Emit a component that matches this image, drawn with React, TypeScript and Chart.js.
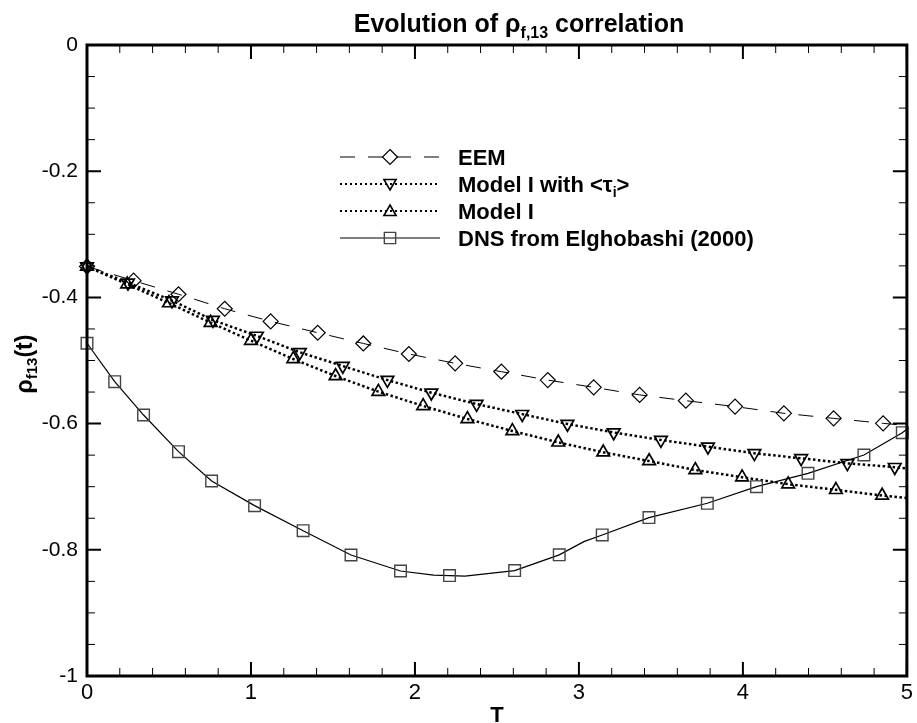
import React, { useEffect, useRef } from 'react';
import { Chart, registerables } from 'chart.js';

Chart.register(...registerables);

// ---------- data ----------
const eemT = [0, 0.284, 0.558, 0.84, 1.12, 1.407, 1.685, 1.963, 2.245, 2.527, 2.81, 3.09, 3.37, 3.652, 3.952, 4.25, 4.553, 4.855];
const eemV = [-0.351, -0.3735, -0.395, -0.418, -0.438, -0.456, -0.473, -0.4897, -0.5045, -0.5177, -0.531, -0.5425, -0.5545, -0.5637, -0.573, -0.5837, -0.5917, -0.5996];
const eemExtraT = [5];
const eemExtraV = [-0.603];

const tauT = [0, 0.25, 0.518, 0.768, 1.036, 1.298, 1.56, 1.832, 2.1, 2.376, 2.654, 2.93, 3.212, 3.5, 3.787, 4.07, 4.355, 4.637, 4.926];
const tauV = [-0.351, -0.3767, -0.405, -0.436, -0.461, -0.487, -0.5087, -0.531, -0.551, -0.569, -0.585, -0.6006, -0.614, -0.626, -0.6366, -0.647, -0.655, -0.663, -0.669];
const tauExtraT = [5];
const tauExtraV = [-0.671];

const m1T = [0, 0.245, 0.5, 0.754, 1.0, 1.258, 1.516, 1.777, 2.05, 2.32, 2.594, 2.874, 3.148, 3.428, 3.71, 3.995, 4.276, 4.567, 4.849];
const m1V = [-0.351, -0.379, -0.409, -0.44, -0.4686, -0.4976, -0.5246, -0.5494, -0.572, -0.5927, -0.6117, -0.6297, -0.6455, -0.6593, -0.6735, -0.685, -0.696, -0.705, -0.714];
const m1ExtraT = [5];
const m1ExtraV = [-0.718];

const dnsT = [0, 0.169, 0.345, 0.558, 0.76, 1.022, 1.318, 1.61, 1.912, 2.211, 2.608, 2.88, 3.142, 3.427, 3.783, 4.083, 4.397, 4.738, 4.972];
const dnsV = [-0.4727, -0.5336, -0.5864, -0.6445, -0.691, -0.73, -0.7697, -0.8082, -0.8336, -0.8408, -0.833, -0.808, -0.7765, -0.749, -0.7263, -0.7, -0.6788, -0.6498, -0.6144];
const dnsExtraT = [2.114, 2.305, 3.03, 5];
const dnsExtraV = [-0.84, -0.8418, -0.787, -0.609];

const xTickValues = [0, 1, 2, 3, 4, 5];
const xTickLabels = ['0', '1', '2', '3', '4', '5'];
const yTickValues = [0, -0.2, -0.4, -0.6, -0.8, -1];
const yTickLabels = ['0', '-0.2', '-0.4', '-0.6', '-0.8', '-1'];

const legendLabels = ['EEM', 'Model I with <τ|i|>', 'Model I', 'DNS from Elghobashi (2000)'];

// ---------- helpers ----------
const pts = (t: number[], v: number[]) => t.map((x, i) => ({ x, y: v[i] }));
const curve = (t: number[], v: number[], et: number[], ev: number[]) =>
  [...pts(t, v), ...pts(et, ev)].sort((a, b) => a.x - b.x);

const FONT = '"Liberation Sans", Arial, Helvetica, sans-serif';

function drawMarker(ctx: CanvasRenderingContext2D, kind: string, x: number, y: number, r: number) {
  ctx.beginPath();
  if (kind === 'diamond') {
    ctx.moveTo(x, y - r); ctx.lineTo(x + r, y); ctx.lineTo(x, y + r); ctx.lineTo(x - r, y); ctx.closePath();
  } else if (kind === 'up' || kind === 'down') {
    const s = kind === 'up' ? 1 : -1;
    for (let k = 0; k < 3; k++) {
      const a = (k * 2 * Math.PI) / 3;
      const px = x + Math.sin(a) * r;
      const py = y - s * Math.cos(a) * r;
      if (k === 0) ctx.moveTo(px, py); else ctx.lineTo(px, py);
    }
    ctx.closePath();
  } else {
    const h = r * Math.SQRT1_2;
    ctx.rect(x - h, y - h, 2 * h, 2 * h);
  }
  ctx.stroke();
}

function drawRich(ctx: CanvasRenderingContext2D, parts: { t: string; f: string; dy: number }[], x: number, y: number, align: 'left' | 'center') {
  let w = 0;
  parts.forEach(p => { ctx.font = p.f; w += ctx.measureText(p.t).width; });
  let cx = align === 'center' ? x - w / 2 : x;
  ctx.textAlign = 'left';
  parts.forEach(p => {
    ctx.font = p.f;
    ctx.fillText(p.t, cx, y + p.dy);
    cx += ctx.measureText(p.t).width;
  });
}

const decorPlugin = {
  id: 'decor',
  afterDraw(chart: any) {
    const { ctx, chartArea: a, scales } = chart;
    const xs = scales.x, ys = scales.y;
    ctx.save();
    ctx.strokeStyle = '#000';
    ctx.fillStyle = '#000';
    ctx.setLineDash([]);
    // x ticks (inward, bottom and top)
    for (let i = 0; i <= 25; i++) {
      const px = xs.getPixelForValue(i * 0.2);
      const major = i % 5 === 0;
      const len = major ? 14 : 8;
      ctx.lineWidth = major ? 2 : 1;
      ctx.beginPath();
      ctx.moveTo(px, a.bottom); ctx.lineTo(px, a.bottom - len);
      ctx.moveTo(px, a.top); ctx.lineTo(px, a.top + len);
      ctx.stroke();
    }
    // y ticks (inward, left and right)
    for (let i = 0; i <= 20; i++) {
      const py = ys.getPixelForValue(-i * 0.05);
      const major = i % 4 === 0;
      const len = major ? 14 : 8;
      ctx.lineWidth = major ? 2 : 1;
      ctx.beginPath();
      ctx.moveTo(a.left, py); ctx.lineTo(a.left + len, py);
      ctx.moveTo(a.right, py); ctx.lineTo(a.right - len, py);
      ctx.stroke();
    }
    // frame
    ctx.lineWidth = 3;
    ctx.strokeRect(a.left, a.top, a.right - a.left, a.bottom - a.top);

    // title
    ctx.textBaseline = 'alphabetic';
    drawRich(ctx, [
      { t: 'Evolution of ρ', f: `bold 25px ${FONT}`, dy: 0 },
      { t: 'f,13', f: `bold 16px ${FONT}`, dy: 6 },
      { t: ' correlation', f: `bold 25px ${FONT}`, dy: 0 },
    ], 519, 32, 'center');

    // x axis title
    ctx.font = `bold 22px ${FONT}`;
    ctx.textAlign = 'center';
    ctx.fillText('T', (a.left + a.right) / 2, 722);

    // y axis title (rotated)
    ctx.save();
    ctx.translate(32, 364);
    ctx.rotate(-Math.PI / 2);
    drawRich(ctx, [
      { t: 'ρ', f: `bold 23px ${FONT}`, dy: 0 },
      { t: 'f13', f: `bold 15px ${FONT}`, dy: 5 },
      { t: '(t)', f: `bold 23px ${FONT}`, dy: 0 },
    ], 0, 0, 'center');
    ctx.restore();

    // legend
    const rows = [157, 184, 211, 238];
    const kinds = ['diamond', 'down', 'up', 'square'];
    const x0 = 340, x1 = 440, xm = 390, xt = 458;
    rows.forEach((ry, i) => {
      ctx.save();
      ctx.strokeStyle = '#000';
      if (i === 0) { ctx.lineWidth = 1; ctx.setLineDash([15, 13]); }
      else if (i === 3) { ctx.lineWidth = 1.2; ctx.setLineDash([]); }
      else { ctx.lineWidth = 2; ctx.setLineDash([2, 3]); }
      ctx.beginPath(); ctx.moveTo(x0, ry); ctx.lineTo(x1, ry); ctx.stroke();
      ctx.setLineDash([]);
      if (i === 0) { ctx.lineWidth = 1.2; drawMarker(ctx, 'diamond', xm, ry, 7.5); }
      else if (i === 3) { ctx.lineWidth = 1.4; ctx.strokeStyle = '#444'; drawMarker(ctx, 'square', xm, ry, 8); }
      else { ctx.lineWidth = 1.6; drawMarker(ctx, kinds[i], xm, ry + (i === 1 ? -1 : 1), 7); }
      ctx.restore();
      ctx.fillStyle = '#000';
      ctx.textBaseline = 'alphabetic';
      const base = ry + 8;
      const lab = legendLabels[i].split('|');
      if (lab.length === 3) {
        drawRich(ctx, [
          { t: lab[0], f: `bold 22px ${FONT}`, dy: 0 },
          { t: lab[1], f: `bold 14px ${FONT}`, dy: 5 },
          { t: lab[2], f: `bold 22px ${FONT}`, dy: 0 },
        ], xt, base, 'left');
      } else {
        drawRich(ctx, [{ t: lab[0], f: `bold 22px ${FONT}`, dy: 0 }], xt, base, 'left');
      }
    });
    ctx.restore();
  },
};

export default function App() {
  const ref = useRef<HTMLCanvasElement | null>(null);
  useEffect(() => {
    document.body.style.margin = '0';
    const canvas = ref.current;
    if (!canvas) return;
    const lineBase = { showLine: true, pointRadius: 0, fill: false, borderColor: '#000', clip: false as any };
    const markBase = { showLine: false, pointBackgroundColor: 'rgba(0,0,0,0)', clip: false as any };
    const chart = new Chart(canvas, {
      type: 'scatter',
      data: {
        datasets: [
          { ...markBase, label: 'EEM', data: pts(eemT, eemV), pointStyle: 'rectRot', pointRadius: 7.5, pointBorderWidth: 1.2, pointBorderColor: '#000' },
          { ...markBase, label: 'Model I with <τi>', data: pts(tauT, tauV), pointStyle: 'triangle', pointRotation: 180, pointRadius: 7.3, pointBorderWidth: 1.7, pointBorderColor: '#000' },
          { ...markBase, label: 'Model I', data: pts(m1T, m1V), pointStyle: 'triangle', pointRadius: 7.3, pointBorderWidth: 1.7, pointBorderColor: '#000' },
          { ...markBase, label: 'DNS', data: pts(dnsT, dnsV), pointStyle: 'rect', pointRadius: 8.2, pointBorderWidth: 1.4, pointBorderColor: '#444' },
          { ...lineBase, label: 'EEM line', data: curve(eemT, eemV, eemExtraT, eemExtraV), borderWidth: 1, borderDash: [15, 13] },
          { ...lineBase, label: 'tau line', data: curve(tauT, tauV, tauExtraT, tauExtraV), borderWidth: 2.5, borderDash: [2.5, 2.5] },
          { ...lineBase, label: 'm1 line', data: curve(m1T, m1V, m1ExtraT, m1ExtraV), borderWidth: 2.5, borderDash: [2.5, 2.5] },
          { ...lineBase, label: 'DNS line', data: curve(dnsT, dnsV, dnsExtraT, dnsExtraV), borderWidth: 1.2 },
        ],
      },
      options: {
        animation: false,
        responsive: false,
        layout: { padding: { top: 45, right: 3, left: 0, bottom: 0 } },
        plugins: { legend: { display: false }, title: { display: false }, tooltip: { enabled: false } },
        scales: {
          x: {
            type: 'linear', min: 0, max: 5,
            afterBuildTicks: (s: any) => { s.ticks = xTickValues.map(v => ({ value: v })); },
            afterFit: (s: any) => { s.height = 47; },
            ticks: {
              color: '#000', padding: 4, maxRotation: 0, autoSkip: false,
              font: { family: FONT, size: 22 },
              callback: (_v: any, i: number) => xTickLabels[i],
            },
            grid: { display: false, drawTicks: false },
            border: { display: false },
          },
          y: {
            type: 'linear', min: -1, max: 0,
            afterBuildTicks: (s: any) => { s.ticks = yTickValues.map(v => ({ value: v })); },
            afterFit: (s: any) => { s.width = 87; },
            ticks: {
              color: '#000', padding: 9, autoSkip: false,
              font: { family: FONT, size: 21 },
              callback: (_v: any, i: number) => yTickLabels[i],
            },
            grid: { display: false, drawTicks: false },
            border: { display: false },
          },
        },
      },
      plugins: [decorPlugin],
    });
    return () => chart.destroy();
  }, []);
  return (
    <div style={{ width: 917, height: 723, background: '#fff' }}>
      <canvas ref={ref} width={917} height={723} style={{ display: 'block' }} />
    </div>
  );
}
